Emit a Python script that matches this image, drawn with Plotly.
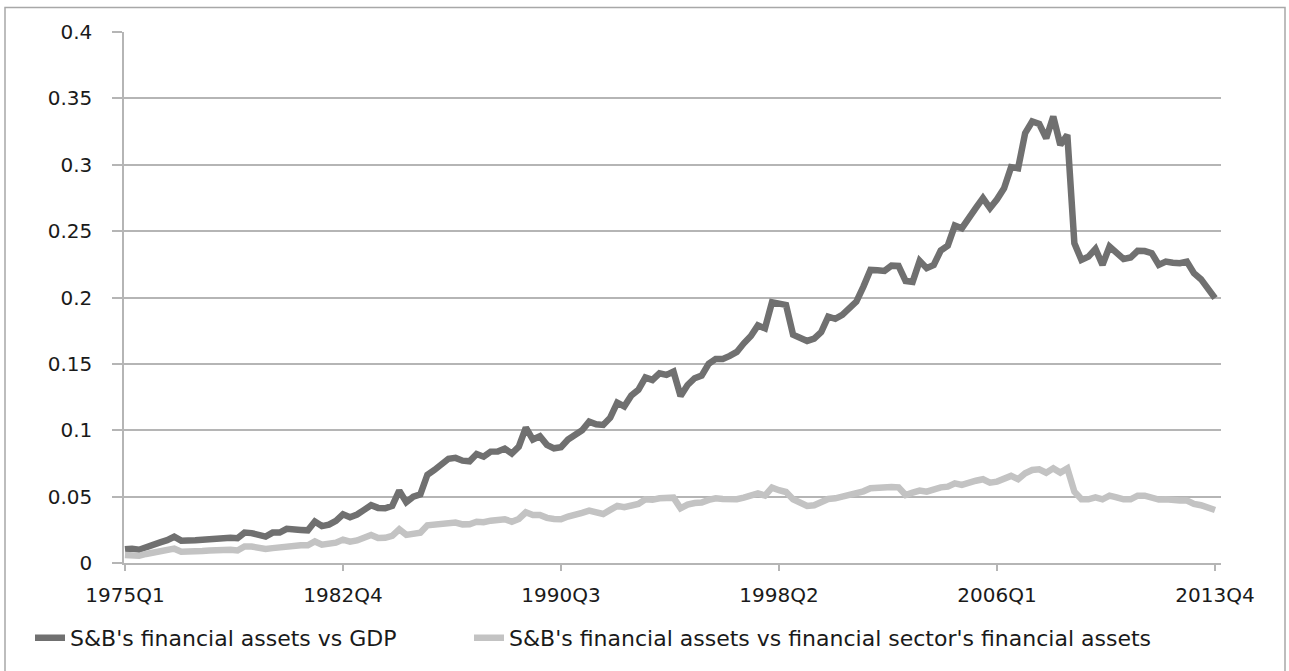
import plotly.graph_objects as go

# quarterly categories 1975Q1 .. 2013Q4
years = list(range(1975, 2014))
quarters = ["%dQ%d" % (y, q) for y in years for q in range(1, 5)]
tick_labels = ["1975Q1", "1982Q4", "1990Q3", "1998Q2", "2006Q1", "2013Q4"]

# S&B's financial assets vs GDP
assets_vs_gdp = [
    0.0103, 0.0108, 0.0100, 0.0122, 0.0140, 0.0155, 0.0172, 0.0198, 0.0168, 0.0176,
    0.0172, 0.0176, 0.0180, 0.0186, 0.0194, 0.0191, 0.0187, 0.0229, 0.0225, 0.0214,
    0.0199, 0.0229, 0.0229, 0.0257, 0.0247, 0.0249, 0.0246, 0.0312, 0.0278, 0.0289,
    0.0318, 0.0367,
    0.0345, 0.0365, 0.0400, 0.0435, 0.0415, 0.0412, 0.0430, 0.0545, 0.0458, 0.0500,
    0.0517, 0.0665, 0.0701, 0.0750, 0.0785, 0.0792, 0.0771, 0.0766, 0.0821, 0.0801,
    0.0839, 0.0840, 0.0862, 0.0825, 0.0877, 0.1020, 0.0930, 0.0955, 0.0890, 0.0864,
    0.0872, 0.0930, 0.0960,
    0.1000, 0.1065, 0.1045, 0.1040, 0.1095, 0.1208, 0.1180, 0.1262, 0.1305, 0.1397,
    0.1379, 0.1429, 0.1417, 0.1442, 0.1258, 0.1341, 0.1392, 0.1412, 0.1500, 0.1537,
    0.1537, 0.1560, 0.1590, 0.1655, 0.1710, 0.1790, 0.1768, 0.1964, 0.1955, 0.1944,
    0.1720,
    0.1690, 0.1673, 0.1690, 0.1740, 0.1856, 0.1840, 0.1870, 0.1920, 0.1969, 0.2082,
    0.2208, 0.2205, 0.2200, 0.2240, 0.2238, 0.2125, 0.2118, 0.2276, 0.2221, 0.2245,
    0.2354, 0.2391, 0.2542, 0.2522, 0.2605, 0.2675, 0.2748,
    0.2673, 0.2740, 0.2823, 0.2982, 0.2974, 0.3238, 0.3326, 0.3308, 0.3200, 0.3363,
    0.3150, 0.3225, 0.2409, 0.2283, 0.2308, 0.2366, 0.2246, 0.2384, 0.2338, 0.2290,
    0.2301, 0.2351, 0.2350, 0.2334, 0.2246, 0.2271, 0.2262, 0.2258, 0.2270, 0.2183,
    0.2138, 0.2057, 0.1995,
]

# S&B's financial assets vs financial sector's financial assets
assets_vs_fin = [
    0.0060, 0.0058, 0.0054, 0.0068, 0.0078, 0.0086, 0.0095, 0.0108, 0.0085, 0.0084,
    0.0088, 0.0091, 0.0095, 0.0099, 0.0103, 0.0099, 0.0094, 0.0125, 0.0124, 0.0115,
    0.0106, 0.0112, 0.0118, 0.0133, 0.0133, 0.0133, 0.0133, 0.0162, 0.0138, 0.0143,
    0.0153, 0.0176,
    0.0161, 0.0170, 0.0190, 0.0211, 0.0188, 0.0190, 0.0205, 0.0254, 0.0212, 0.0220,
    0.0228, 0.0284, 0.0292, 0.0298, 0.0303, 0.0305, 0.0291, 0.0292, 0.0311, 0.0307,
    0.0319, 0.0322, 0.0330, 0.0311, 0.0332, 0.0382, 0.0362, 0.0362, 0.0340, 0.0332,
    0.0330, 0.0350, 0.0360,
    0.0378, 0.0394, 0.0380, 0.0369, 0.0400, 0.0430, 0.0420, 0.0432, 0.0445, 0.0480,
    0.0476, 0.0487, 0.0490, 0.0492, 0.0412, 0.0440, 0.0452, 0.0455, 0.0475, 0.0487,
    0.0482, 0.0477, 0.0480, 0.0492, 0.0505, 0.0525, 0.0508, 0.0568, 0.0548, 0.0535,
    0.0480,
    0.0452, 0.0430, 0.0435, 0.0460, 0.0482, 0.0487, 0.0500, 0.0512, 0.0520, 0.0540,
    0.0563, 0.0570, 0.0575, 0.0573, 0.0570, 0.0512, 0.0530, 0.0545, 0.0537, 0.0555,
    0.0570, 0.0575, 0.0600, 0.0588, 0.0608, 0.0620, 0.0631,
    0.0605, 0.0613, 0.0631, 0.0656, 0.0631, 0.0676, 0.0701, 0.0706, 0.0680, 0.0713,
    0.0681, 0.0713, 0.0537, 0.0480, 0.0480, 0.0495, 0.0480, 0.0507, 0.0495, 0.0480,
    0.0480, 0.0507, 0.0507, 0.0487, 0.0478, 0.0480, 0.0472, 0.0470, 0.0470, 0.0445,
    0.0435, 0.0420, 0.0399,
]

FONT = "DejaVu Sans, Open Sans, sans-serif"
GRID = "#b5b5b5"
TXT = "#1a1a1a"

fig = go.Figure()
fig.add_trace(go.Scatter(x=quarters, y=assets_vs_gdp, mode="lines",
                         name="S&B's financial assets vs GDP", legend="legend",
                         line=dict(color="#707070", width=6.5)))
fig.add_trace(go.Scatter(x=quarters, y=assets_vs_fin, mode="lines",
                         name="S&B's financial assets vs financial sector's financial assets",
                         legend="legend2",
                         line=dict(color="#c3c3c3", width=6.5)))

leg = dict(orientation="h", xanchor="left", yanchor="middle", y=-0.141,
           font=dict(family=FONT, size=22, color=TXT), bgcolor="rgba(0,0,0,0)")

fig.update_layout(
    width=1289, height=671,
    margin=dict(l=124, r=68, t=32, b=108),
    paper_bgcolor="white", plot_bgcolor="white",
    font=dict(family=FONT, size=20, color=TXT),
    showlegend=True,
    legend=dict(leg, x=(30 - 124) / 1097),
    legend2=dict(leg, x=(469 - 124) / 1097),
    shapes=[dict(type="rect", xref="paper", yref="paper",
                 x0=(5 - 124) / 1097, x1=(1285 - 124) / 1097,
                 y0=-0.3, y1=(563 - 7.5) / 531,
                 line=dict(color="#a8a8a8", width=1.5), layer="below")],
)

fig.update_xaxes(
    type="category", range=[-0.14, 155.85],
    tickmode="array", tickvals=tick_labels, ticktext=tick_labels,
    showgrid=False, showline=True, linecolor=GRID, linewidth=1.5,
    ticks="outside", ticklen=6, tickcolor=GRID, tickwidth=1.5,
    ticklabelstandoff=7, tickangle=0,
    tickfont=dict(family=FONT, size=20, color=TXT),
)
fig.update_yaxes(
    range=[0, 0.4], dtick=0.05, tick0=0,
    showgrid=True, gridcolor=GRID, gridwidth=1.5, zeroline=False,
    showline=True, linecolor=GRID, linewidth=1.5,
    ticks="outside", ticklen=10, tickcolor=GRID, tickwidth=1.5,
    ticklabelstandoff=16,
    tickfont=dict(family=FONT, size=20, color=TXT),
)

# page body has a default 8px margin; drop it so the figure sits at the corner
fig.write_html("out.html", config={"displayModeBar": False},
               post_script="document.body.style.margin='0';")
